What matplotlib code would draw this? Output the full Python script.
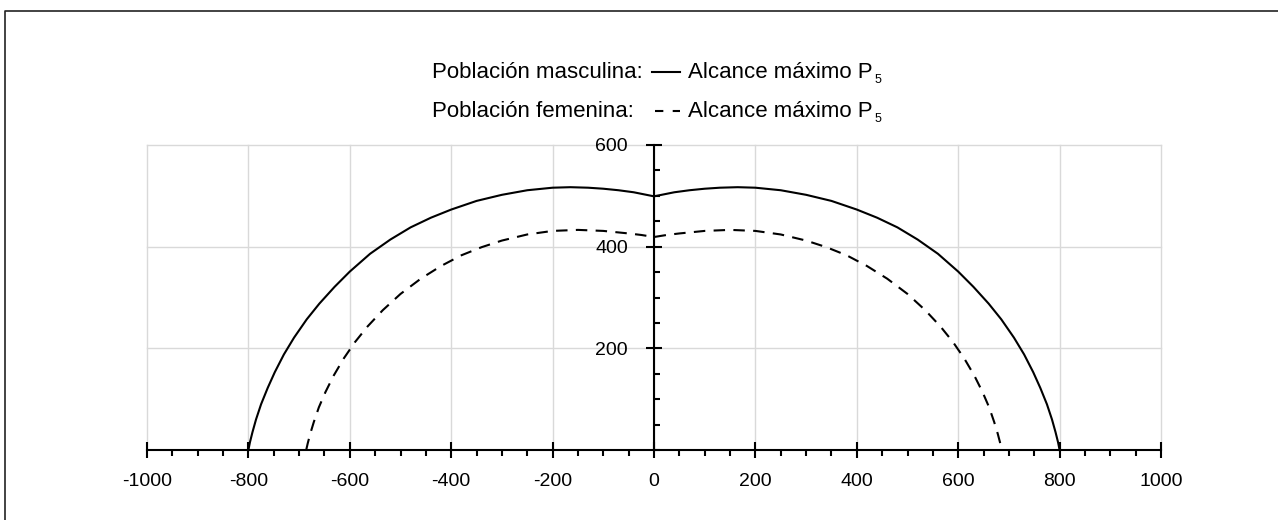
import matplotlib
matplotlib.use("Agg")
import matplotlib.pyplot as plt
from matplotlib.lines import Line2D
from matplotlib.ticker import MultipleLocator

plt.rcParams['font.family'] = ['Liberation Sans', 'DejaVu Sans']

# ---- data ----
male_x = [-800, -797, -792, -785, -775, -762, -748, -730, -710, -685, -660, -630, -600,
          -560, -520, -480, -440, -400, -350, -300, -250, -200, -165, -130, -100, -70, -40, 0,
          40, 70, 100, 130, 165, 200, 250, 300, 350, 400, 440, 480, 520, 560,
          600, 630, 660, 685, 710, 730, 748, 762, 775, 785, 792, 797, 800]
male_y = [0, 15, 35, 60, 90, 122, 153, 188, 221, 257, 288, 321, 351,
          386, 414, 438, 457, 473, 490, 502, 511, 516, 517, 516, 514, 511, 507, 499,
          507, 511, 514, 516, 517, 516, 511, 502, 490, 473, 457, 438, 414, 386,
          351, 321, 288, 257, 221, 188, 153, 122, 90, 60, 35, 15, 0]

female_x = [-686, -683, -678, -671, -661, -648, -632, -612, -590, -565, -535, -500, -460,
            -420, -380, -340, -300, -250, -200, -150, -100, -50, -25, 0,
            25, 50, 100, 150, 200, 250, 300, 340, 380, 420, 460, 500, 535, 565,
            590, 612, 632, 648, 661, 671, 678, 683, 686]
female_y = [0, 13, 32, 55, 84, 114, 146, 180, 212, 243, 275, 307, 337,
            362, 383, 399, 412, 424, 431, 433, 431, 426, 423, 419,
            423, 426, 431, 433, 431, 424, 412, 399, 383, 362, 337, 307, 275, 243,
            212, 180, 146, 114, 84, 55, 32, 13, 0]

x_ticks = [-1000, -800, -600, -400, -200, 0, 200, 400, 600, 800, 1000]
y_ticks = [200, 400, 600]

legend_label_male = "Población masculina:"
legend_label_female = "Población femenina:"
legend_text = "Alcance máximo P"
legend_sub = "5"

# ---- figure ----
W, H = 1278, 520
fig = plt.figure(figsize=(W / 100, H / 100), dpi=100)

def fx(px):
    return px / W

def fy(py):
    return 1 - py / H

ax = fig.add_axes([fx(147), fy(450), (1161 - 147) / W, (450 - 145) / H])
ax.set_xlim(-1000, 1000)
ax.set_ylim(0, 600)

grid_c = '#d9d9d9'
for xv in x_ticks:
    ax.plot([xv, xv], [0, 600], color=grid_c, lw=1.0, zorder=0, clip_on=False)
for yv in y_ticks:
    ax.plot([-1000, 1000], [yv, yv], color=grid_c, lw=1.0, zorder=0, clip_on=False)

ax.plot(male_x, male_y, color='black', lw=1.5, solid_joinstyle='round', zorder=3, clip_on=False)
ax.plot(female_x, female_y, color='black', lw=1.5, linestyle=(0, (5.5, 4)), zorder=3, clip_on=False)

for s in ['top', 'right']:
    ax.spines[s].set_visible(False)
ax.spines['left'].set_position(('data', 0))
ax.spines['left'].set_linewidth(1.5)
ax.spines['bottom'].set_linewidth(1.5)
ax.spines['left'].set_zorder(4)
ax.spines['bottom'].set_zorder(4)

ax.set_xticks(x_ticks)
ax.set_xticklabels([str(v) for v in x_ticks])
ax.xaxis.set_minor_locator(MultipleLocator(50))
ax.set_yticks(y_ticks)
ax.set_yticklabels([str(v) for v in y_ticks])
ax.yaxis.set_minor_locator(MultipleLocator(50))

ax.tick_params(axis='x', which='major', direction='inout', length=11.5, width=1.5, pad=11,
               labelsize=14, colors='black')
ax.tick_params(axis='x', which='minor', direction='out', length=4.2, width=1.5)
ax.tick_params(axis='y', which='major', direction='inout', length=11.5, width=1.5, pad=13,
               labelsize=14, colors='black')
ax.tick_params(axis='y', which='minor', direction='in', length=4.3, width=1.5)
ax.patch.set_visible(False)

# ---- legend-like header ----
fs = 16
y1, y2 = 78, 117
renderer = fig.canvas.get_renderer()
l1 = fig.text(fx(432), fy(y1), legend_label_male, fontsize=fs, va='baseline', ha='left')
l2 = fig.text(fx(432), fy(y2), legend_label_female, fontsize=fs, va='baseline', ha='left')
end1 = l1.get_window_extent(renderer).x1
x_line0 = end1 + 9
x_line1 = x_line0 + 28
x_txt = x_line1 + 8
t1 = fig.text(x_txt / W, fy(y1), legend_text, fontsize=fs, va='baseline', ha='left')
t2 = fig.text(x_txt / W, fy(y2), legend_text, fontsize=fs, va='baseline', ha='left')
fig.add_artist(Line2D([x_line0 / W, x_line1 / W], [fy(y1 - 6), fy(y1 - 6)], color='black', lw=1.5))
fig.add_artist(Line2D([(x_line0 + 3) / W, x_line1 / W], [fy(y2 - 6), fy(y2 - 6)], color='black',
                      lw=1.5, linestyle=(0, (4, 4.5))))

for t, yb in [(t1, y1), (t2, y2)]:
    bb = t.get_window_extent(renderer)
    fig.text(bb.x1 / W + fx(2), fy(yb + 5), legend_sub, fontsize=9, va='baseline', ha='left')

# ---- frame lines (top and left) ----
fig.add_artist(Line2D([fx(4.5), fx(4.5), fx(W)], [fy(H), fy(10.5), fy(10.5)],
                      color='#222222', lw=1.2))

fig.savefig('out.png', dpi=100)
